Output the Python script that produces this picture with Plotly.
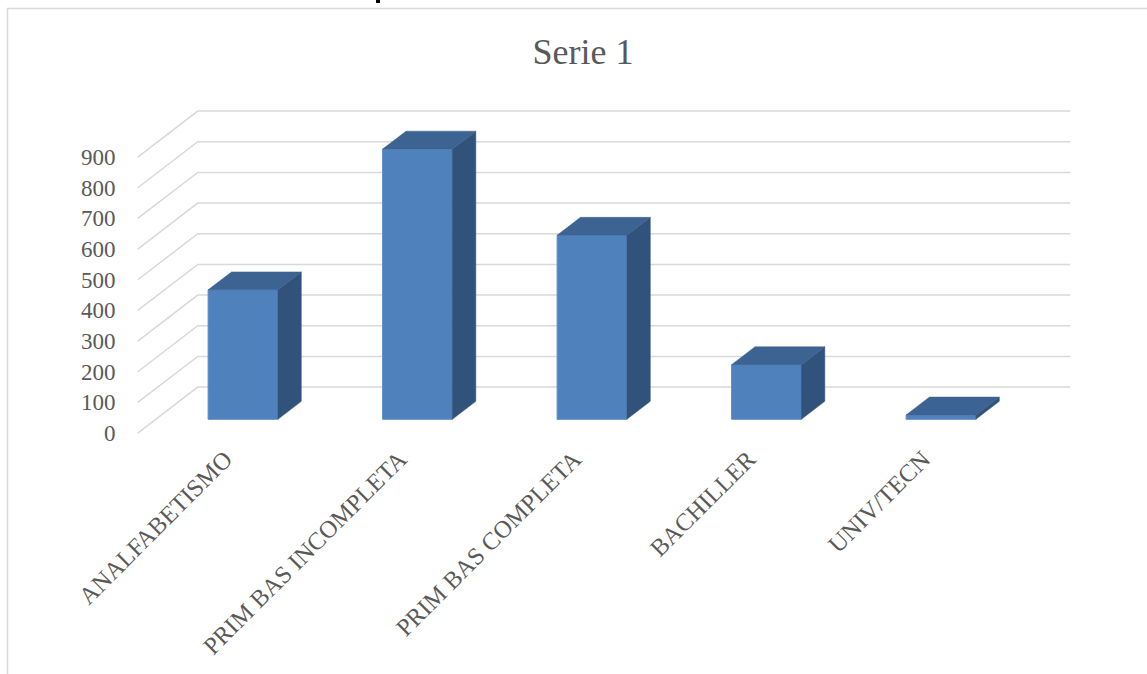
import plotly.graph_objects as go

# ---- data ----
categories = ["ANALFABETISMO", "PRIM BAS INCOMPLETA", "PRIM BAS COMPLETA", "BACHILLER", "UNIV/TECN"]
values = [422, 881, 600, 178, 14]
y_ticks = [0, 100, 200, 300, 400, 500, 600, 700, 800, 900]
chart_title = "Serie 1"

# ---- geometry (pixel layout) ----
W, H = 1147, 674
ML, MR, MT, MB = 125, 72, 100, 229
PW, PH = W - ML - MR, H - MT - MB
PX_CAT = 174.5            # pixels per category
PX_UNIT = 0.3067          # pixels per value unit
FIRST_CENTER = 118        # first category centre, px from plot left
BASE_FROM_BOTTOM = 25.7   # bar baseline, px from plot bottom

x_range = [-FIRST_CENTER / PX_CAT, (PW - FIRST_CENTER) / PX_CAT]
y_range = [-BASE_FROM_BOTTOM / PX_UNIT, (PH - BASE_FROM_BOTTOM) / PX_UNIT]

# oblique depth: full depth of the floor in axis units
DXF = 60 / PX_CAT
DYF = 46 / PX_UNIT
T0, T1 = 0.30, 0.69       # bar front / back depth fraction
BAR_W = 0.40
n = len(categories)
xs = list(range(n))

FRONT = "#4F81BD"
TOP = "#3C6391"
SIDE = "#31527A"
GRID = "#D9D9D9"
TXT = "#595959"
FONT = "Liberation Serif"

fig = go.Figure()

# front faces
fig.add_trace(go.Bar(
    x=xs, y=values, width=BAR_W,
    marker=dict(color=FRONT, line=dict(color="#5E8DC6", width=1)),
    hoverinfo="skip", showlegend=False, xaxis="x", yaxis="y",
))

ddx = (T1 - T0) * DXF
ddy = (T1 - T0) * DYF
side_x, side_y, top_x, top_y = [], [], [], []
for i, v in zip(xs, values):
    r = i + BAR_W / 2
    l = i - BAR_W / 2
    side_x += [r, r, r + ddx, r + ddx, r, None]
    side_y += [0, v, v + ddy, ddy, 0, None]
    top_x += [l, r, r + ddx, l + ddx, l, None]
    top_y += [v, v, v + ddy, v + ddy, v, None]

fig.add_trace(go.Scatter(x=side_x, y=side_y, mode="lines", fill="toself",
                         fillcolor=SIDE, line=dict(color=SIDE, width=0.5),
                         hoverinfo="skip", showlegend=False))
fig.add_trace(go.Scatter(x=top_x, y=top_y, mode="lines", fill="toself",
                         fillcolor=TOP, line=dict(color=TOP, width=0.5),
                         hoverinfo="skip", showlegend=False))

# invisible trace to activate the front-wall axes (category labels + values)
fig.add_trace(go.Scatter(x=[xs[0]], y=[y_ticks[0]], xaxis="x2", yaxis="y2",
                         mode="markers", marker=dict(opacity=0),
                         hoverinfo="skip", showlegend=False))

shapes = []
x_left = -0.5
x_right = n - 0.5
for v in y_ticks:
    x0, y0 = x_left - T0 * DXF, v - T0 * DYF
    x1, y1 = x_left + (1 - T0) * DXF, v + (1 - T0) * DYF
    x2 = x_right + (1 - T0) * DXF
    shapes.append(dict(type="path", xref="x", yref="y", layer="below",
                       path=f"M {x0} {y0} L {x1} {y1} L {x2} {y1}",
                       line=dict(color=GRID, width=1.5)))

def px_to_paper_x(px):
    return (px - ML) / PW

def px_to_paper_y(py):
    return (MT + PH - py) / PH

# chart frame
shapes.append(dict(type="rect", xref="paper", yref="paper",
                   x0=px_to_paper_x(7.5), x1=px_to_paper_x(1170),
                   y0=px_to_paper_y(700), y1=px_to_paper_y(8.5),
                   line=dict(color=GRID, width=1.5), layer="below"))
# cut-off mark of document text above the frame
shapes.append(dict(type="rect", xref="paper", yref="paper",
                   x0=px_to_paper_x(376), x1=px_to_paper_x(380),
                   y0=px_to_paper_y(3), y1=px_to_paper_y(-2),
                   line=dict(width=0), fillcolor="black"))

fig.update_layout(
    width=W, height=H,
    margin=dict(l=ML, r=MR, t=MT, b=MB, pad=0),
    paper_bgcolor="white", plot_bgcolor="white",
    showlegend=False,
    shapes=shapes,
    title=dict(text=chart_title, font=dict(family=FONT, size=36, color=TXT),
               x=583 / W, xanchor="center", xref="container",
               y=1 - 51 / H, yanchor="middle", yref="container"),
    xaxis=dict(range=x_range, showticklabels=False,
               showgrid=False, zeroline=False, showline=False, ticks="",
               fixedrange=True),
    xaxis2=dict(range=[x_range[0] + T0 * DXF, x_range[1] + T0 * DXF],
                overlaying="x", side="bottom", anchor="y",
                tickvals=xs, ticktext=categories, tickangle=-45,
                showgrid=False, zeroline=False, showline=False, ticks="",
                ticklabelstandoff=-6,
                tickfont=dict(family=FONT, size=24.5, color=TXT), fixedrange=True),
    yaxis=dict(range=y_range, showgrid=False, zeroline=False, showline=False,
               showticklabels=False, ticks="", fixedrange=True),
    yaxis2=dict(range=[y_range[0] + T0 * DYF, y_range[1] + T0 * DYF],
                overlaying="y", side="left", tickvals=y_ticks,
                showgrid=False, zeroline=False, showline=False,
                ticks="outside", ticklen=4, tickcolor="rgba(0,0,0,0)",
                tickfont=dict(family=FONT, size=23, color=TXT), fixedrange=True),
)

fig.write_html("out.html")
